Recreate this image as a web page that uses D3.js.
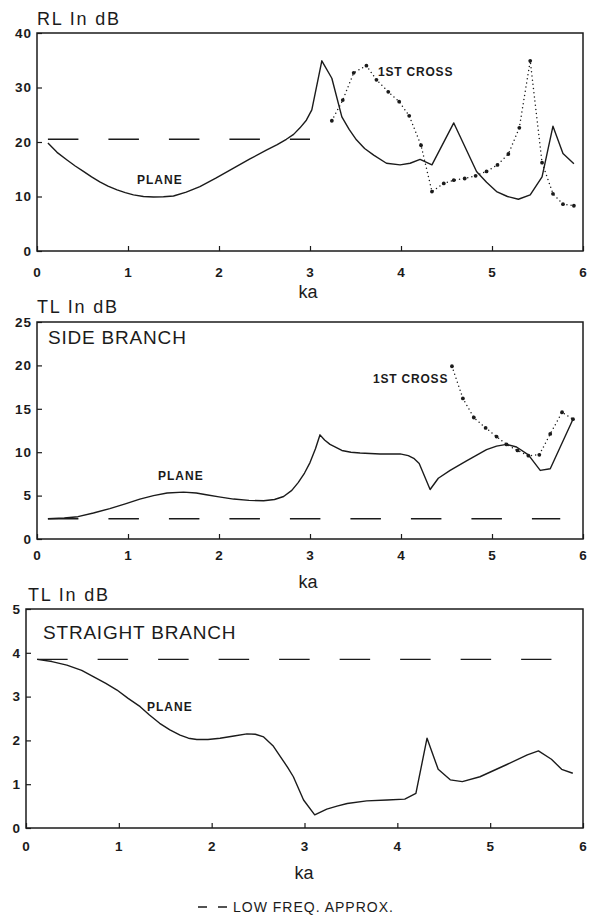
<!DOCTYPE html>
<html>
<head>
<meta charset="utf-8">
<script src="https://cdn.jsdelivr.net/npm/d3@7"></script>
<style>
  body { margin: 0; background: #fff; }
  svg { display: block; font-family: "Liberation Sans", Arial, sans-serif; }
  .tick text { font-family: "Liberation Sans", Arial, sans-serif; }
</style>
</head>
<body>
<svg id="chart" width="595" height="917"></svg>
<script>
// ---- data (ka, dB) ----
var xTicks = [0, 1, 2, 3, 4, 5, 6];

var rlTicks = [0, 10, 20, 30, 40];
var rlPlane = [[0.12,19.8],[0.22,18.1],[0.33,16.7],[0.42,15.6],[0.51,14.6],[0.60,13.6],[0.69,12.7],
  [0.78,11.9],[0.88,11.2],[0.97,10.7],[1.06,10.3],[1.17,10.0],[1.28,9.9],[1.39,9.95],[1.50,10.1],
  [1.64,10.8],[1.79,11.8],[1.97,13.4],[2.16,15.2],[2.34,16.9],[2.52,18.5],[2.64,19.5],[2.74,20.5],
  [2.82,21.4],[2.89,22.6],[2.96,24.0],[3.02,25.9],[3.13,34.9],[3.24,31.7],[3.35,24.6],[3.43,22.3],
  [3.51,20.4],[3.60,18.8],[3.70,17.6],[3.84,16.1],[3.99,15.8],[4.10,16.1],[4.21,16.8],[4.34,15.8],
  [4.58,23.5],[4.83,14.6],[4.94,12.6],[5.05,10.9],[5.17,10.0],[5.29,9.5],[5.42,10.3],[5.55,13.6],
  [5.67,22.9],[5.78,17.9],[5.90,16.0]];
var rlCross = [[3.24,23.9],[3.36,27.7],[3.48,32.7],[3.62,34.0],[3.73,31.4],[3.86,29.2],[3.98,27.4],
  [4.09,24.8],[4.22,19.4],[4.34,10.9],[4.47,12.4],[4.58,13.0],[4.70,13.3],[4.82,13.8],[4.94,14.6],
  [5.06,15.8],[5.18,17.8],[5.30,22.6],[5.42,34.9],[5.55,16.2],[5.67,10.5],[5.78,8.6],[5.90,8.3]];
var rlLowFreq = [[0.12,20.5],[3.0,20.5]];

var sideTicks = [0, 5, 10, 15, 20, 25];
var sidePlane = [[0.12,2.34],[0.30,2.42],[0.45,2.57],[0.62,3.0],[0.80,3.5],[0.97,4.05],[1.13,4.6],
  [1.28,5.0],[1.43,5.3],[1.61,5.4],[1.75,5.3],[1.86,5.1],[2.00,4.85],[2.16,4.6],[2.33,4.45],
  [2.49,4.4],[2.61,4.55],[2.71,4.9],[2.80,5.6],[2.87,6.5],[2.94,7.6],[3.00,8.8],[3.06,10.4],
  [3.11,12.0],[3.16,11.4],[3.22,10.9],[3.35,10.2],[3.45,10.0],[3.55,9.9],[3.77,9.8],[3.99,9.8],
  [4.08,9.6],[4.14,9.3],[4.20,8.7],[4.32,5.7],[4.41,7.0],[4.54,7.9],[4.72,9.0],[4.94,10.3],
  [5.05,10.7],[5.16,10.9],[5.27,10.6],[5.40,9.7],[5.53,7.9],[5.64,8.1],[5.89,13.8]];
var sideCross = [[4.56,19.9],[4.68,16.2],[4.80,14.0],[4.93,12.8],[5.05,11.8],[5.16,10.9],[5.28,10.2],
  [5.40,9.6],[5.52,9.7],[5.64,12.1],[5.77,14.6],[5.89,13.8]];
var sideLowFreq = [[0.12,2.34],[5.75,2.34]];

var straightTicks = [0, 1, 2, 3, 4, 5];
var straightPlane = [[0.12,3.85],[0.28,3.8],[0.44,3.72],[0.60,3.6],[0.73,3.45],[0.86,3.3],[0.98,3.15],
  [1.10,2.96],[1.23,2.77],[1.33,2.58],[1.44,2.39],[1.55,2.24],[1.66,2.12],[1.75,2.05],[1.84,2.02],
  [1.96,2.02],[2.09,2.05],[2.24,2.1],[2.38,2.15],[2.47,2.14],[2.56,2.08],[2.66,1.88],[2.74,1.63],
  [2.82,1.38],[2.88,1.17],[2.99,0.64],[3.11,0.30],[3.24,0.43],[3.35,0.50],[3.46,0.56],[3.67,0.62],
  [3.89,0.64],[4.08,0.66],[4.20,0.79],[4.32,2.05],[4.44,1.34],[4.57,1.10],[4.70,1.06],[4.89,1.17],
  [5.18,1.45],[5.40,1.67],[5.52,1.76],[5.66,1.57],[5.77,1.34],[5.89,1.25]];
var straightLowFreq = [[0.12,3.85],[5.66,3.85]];

var ink = "#1b1b1b";
var svg = d3.select("#chart");

var panels = [
  { left: 37, right: 583, top: 33, bottom: 251, ymax: 40, yTicks: rlTicks,
    title: "RL In dB", titleX: 37, titleY: 25, xPad: 16, kaY: 298, kaX: 308,
    plane: rlPlane, cross: rlCross, low: rlLowFreq,
    planeLab: [137, 184], crossLab: [378, 76] },
  { left: 37, right: 583, top: 322, bottom: 539, ymax: 25, yTicks: sideTicks,
    title: "TL In dB", titleX: 37, titleY: 313, xPad: 11, kaY: 588, kaX: 308,
    plane: sidePlane, cross: sideCross, low: sideLowFreq,
    planeLab: [158, 480], crossLab: [373, 383],
    name: "SIDE BRANCH", nameX: 48, nameY: 344 },
  { left: 26, right: 583, top: 609, bottom: 828, ymax: 5, yTicks: straightTicks,
    title: "TL In dB", titleX: 28, titleY: 601, xPad: 13, kaY: 879, kaX: 304,
    plane: straightPlane, low: straightLowFreq,
    planeLab: [147, 711],
    name: "STRAIGHT BRANCH", nameX: 43, nameY: 639 }
];

panels.forEach(function(p) {
  var x = d3.scaleLinear().domain([0, 6]).range([p.left, p.right]);
  var y = d3.scaleLinear().domain([0, p.ymax]).range([p.bottom, p.top]);
  var g = svg.append("g");

  // axes, ticks pointing inward
  var xa = g.append("g").attr("transform", "translate(0," + p.bottom + ")")
    .call(d3.axisBottom(x).tickValues(xTicks).tickFormat(d3.format("d"))
      .tickSizeInner(-5).tickSizeOuter(0).tickPadding(p.xPad));
  var ya = g.append("g").attr("transform", "translate(" + p.left + ",0)")
    .call(d3.axisLeft(y).tickValues(p.yTicks).tickFormat(d3.format("d"))
      .tickSizeInner(-5).tickSizeOuter(0).tickPadding(5));
  [xa, ya].forEach(function(a) {
    a.select(".domain").remove();
    a.selectAll("line").attr("stroke", ink).attr("stroke-width", 1.2);
    a.selectAll("text").attr("fill", ink).style("font-size", "13.5px")
      .style("font-weight", "bold").style("letter-spacing", "1px");
  });

  // frame
  g.append("rect")
    .attr("x", p.left).attr("y", p.top)
    .attr("width", p.right - p.left).attr("height", p.bottom - p.top)
    .attr("fill", "none").attr("stroke", ink).attr("stroke-width", 1.5);

  var line = d3.line().x(function(d) { return x(d[0]); }).y(function(d) { return y(d[1]); });

  // low frequency approximation
  g.append("path").attr("d", line(p.low))
    .attr("fill", "none").attr("stroke", ink).attr("stroke-width", 1.4)
    .attr("stroke-dasharray", "30.5,30");

  // plane wave
  g.append("path").attr("d", line(p.plane))
    .attr("fill", "none").attr("stroke", ink).attr("stroke-width", 1.4)
    .attr("stroke-linejoin", "round");

  // first cross mode (dotted)
  if (p.cross) {
    g.append("path").attr("d", line(p.cross))
      .attr("fill", "none").attr("stroke", ink).attr("stroke-width", 1.5)
      .attr("stroke-linecap", "round").attr("stroke-dasharray", "0,4.2");
    g.selectAll("circle.pt").data(p.cross).enter().append("circle")
      .attr("class", "pt")
      .attr("cx", function(d) { return x(d[0]); })
      .attr("cy", function(d) { return y(d[1]); })
      .attr("r", 1.9).attr("fill", ink);
    g.append("text").attr("x", p.crossLab[0]).attr("y", p.crossLab[1])
      .text("1ST CROSS").attr("fill", ink)
      .style("font-size", "12px").style("font-weight", "bold").style("letter-spacing", "0.8px");
  }

  g.append("text").attr("x", p.planeLab[0]).attr("y", p.planeLab[1])
    .text("PLANE").attr("fill", ink)
    .style("font-size", "12px").style("font-weight", "bold").style("letter-spacing", "1px");

  g.append("text").attr("x", p.titleX).attr("y", p.titleY)
    .text(p.title).attr("fill", ink)
    .style("font-size", "18px").style("letter-spacing", "1.8px");

  g.append("text").attr("x", p.kaX).attr("y", p.kaY).attr("text-anchor", "middle")
    .text("ka").attr("fill", ink).style("font-size", "18px");

  if (p.name) {
    g.append("text").attr("x", p.nameX).attr("y", p.nameY)
      .text(p.name).attr("fill", ink)
      .style("font-size", "19px").style("letter-spacing", "0.8px");
  }
});

// legend
svg.append("line").attr("x1", 198).attr("x2", 228).attr("y1", 907).attr("y2", 907)
  .attr("stroke", ink).attr("stroke-width", 1.4).attr("stroke-dasharray", "9,11");
svg.append("text").attr("x", 233).attr("y", 912)
  .text("LOW FREQ. APPROX.").attr("fill", ink)
  .style("font-size", "14px").style("letter-spacing", "1px");
</script>
</body>
</html>
